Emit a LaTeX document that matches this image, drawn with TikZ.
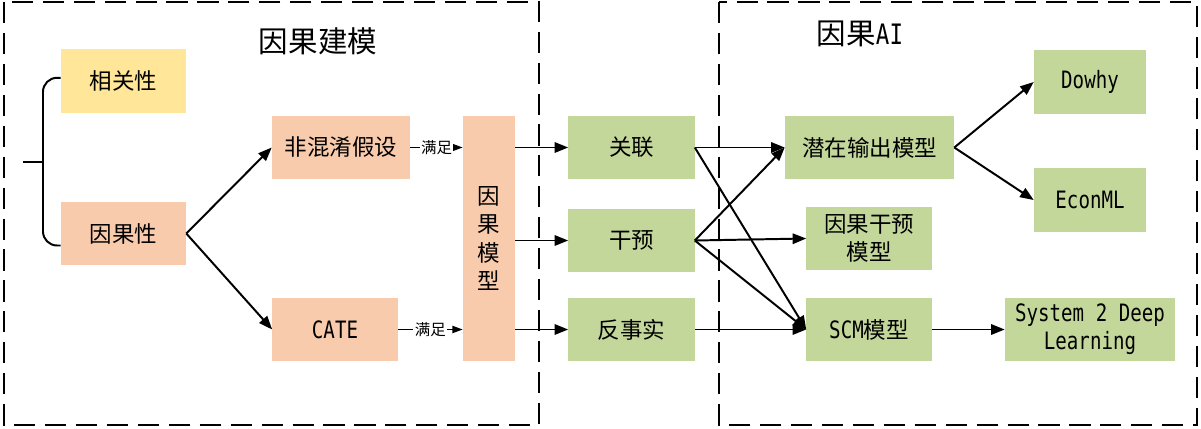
\documentclass[tikz,border=0pt]{standalone}
\usepackage{fontspec}
\setmainfont{Noto Sans CJK SC}
\newfontfamily\lat[FakeStretch=0.8]{DejaVu Sans Mono}
\usetikzlibrary{arrows.meta}
\definecolor{boxyellow}{RGB}{255,230,153}
\definecolor{boxorange}{RGB}{248,203,173}
\definecolor{boxgreen}{RGB}{196,215,155}
\newcommand{\entxt}[1]{{\lat\fontsize{17}{20}\selectfont #1}}
\begin{document}
\begin{tikzpicture}[x=0.025cm,y=-0.025cm]
\tikzstyle{arr}= [-{Triangle[length=3.4mm,width=2.6mm]},line width=1.4pt]
\tikzstyle{sarr}= [-{Triangle[length=2.6mm,width=1.8mm]},line width=1.1pt]
\tikzstyle{lbl}= [fill=white,inner sep=1pt,font=\fontsize{11}{13}\selectfont]
\tikzstyle{bb}= [rectangle,inner sep=0pt,minimum width=3.125cm,minimum height=1.575cm,align=center,font=\fontsize{16}{20}\selectfont]
\tikzstyle{yb}= [bb,fill=boxyellow]
\tikzstyle{ob}= [bb,fill=boxorange]
\tikzstyle{gb}= [bb,fill=boxgreen]
\tikzstyle{ttl}= [font=\fontsize{21}{24}\selectfont]
\tikzstyle{fr}= [dash pattern=on 15pt off 7pt,line width=2pt]
\useasboundingbox (0,0) rectangle (1201,428);
\draw[fr] (4,2) rectangle (539,425);
\draw[fr] (719,2) rectangle (1197,425);
\path
	( 318, 41) node[ttl] (tl) {因果建模}
	( 860, 34) node[ttl] (tr) {因果{\lat\fontsize{20}{24}\selectfont AI}}
	(123.5, 81) node[yb,minimum height=1.6cm] (xgx) {相关性}
	(123.5,233.5) node[ob] (ygx) {因果性}
	( 341,147.5) node[ob,minimum width=3.45cm] (fhx) {非混淆假设}
	( 335,329.5) node[ob] (cate) {\entxt{CATE}}
	( 489,238.5) node[ob,minimum width=1.3cm,minimum height=6.125cm] (yxmx) {因\\果\\模\\型}
	(631.5,147.5) node[gb,minimum width=3.15cm] (gl) {关联}
	(631.5,240.5) node[gb,minimum width=3.15cm] (gy) {干预}
	(631.5,329.5) node[gb,minimum width=3.15cm] (fss) {反事实}
	(869.5,147.5) node[gb,minimum width=4.225cm] (qz) {潜在输出模型}
	( 869,238.5) node[gb] (yggy) {因果干预\\模型}
	( 869,329.5) node[gb] (scm) {\entxt{SCM}模型}
	(1090, 82) node[gb,minimum width=2.8cm,minimum height=1.6cm] (dowhy) {\entxt{Dowhy}}
	(1090,200) node[gb,minimum width=2.8cm,minimum height=1.6cm] (econ) {\entxt{EconML}}
	(1090,329.5) node[gb,minimum width=4.25cm,font=\lat\fontsize{17}{20}\selectfont] (sys) {System 2 Deep\\Learning}
;
% brace
\coordinate (br) at (43,162);
\coordinate (stem) at (23,162);
\draw[line width=1.4pt,rounded corners=0.35cm] ([yshift=0.08cm]xgx.west) -| (br) |- ([yshift=-0.3cm]ygx.west);
\draw[line width=1.4pt] (stem) -- (br);
% left part
\draw[arr] (ygx.east) -- (fhx.west);
\draw[arr] (ygx.east) -- (cate.west);
\draw[sarr] (fhx.east) -- node[lbl] {满足} (yxmx.west |- fhx.east);
\draw[sarr] (cate.east) -- node[lbl] {满足} (yxmx.west |- cate.east);
\draw[arr] (yxmx.east |- gl.west) -- (gl.west);
\draw[arr] (yxmx.east |- gy.west) -- (gy.west);
\draw[arr] (yxmx.east |- fss.west) -- (fss.west);
% right part
\draw[arr] (gl.east) -- (qz.west);
\draw[arr] (gl.east) -- (scm.west);
\draw[arr] (gy.east) -- (qz.west);
\draw[arr] (gy.east) -- (yggy.west);
\draw[arr] (gy.east) -- (scm.west);
\draw[arr] (fss.east) -- (scm.west);
\draw[arr] (qz.east) -- (dowhy.west);
\draw[arr] (qz.east) -- (econ.west);
\draw[arr] (scm.east) -- (sys.west);
\end{tikzpicture}
\end{document}
